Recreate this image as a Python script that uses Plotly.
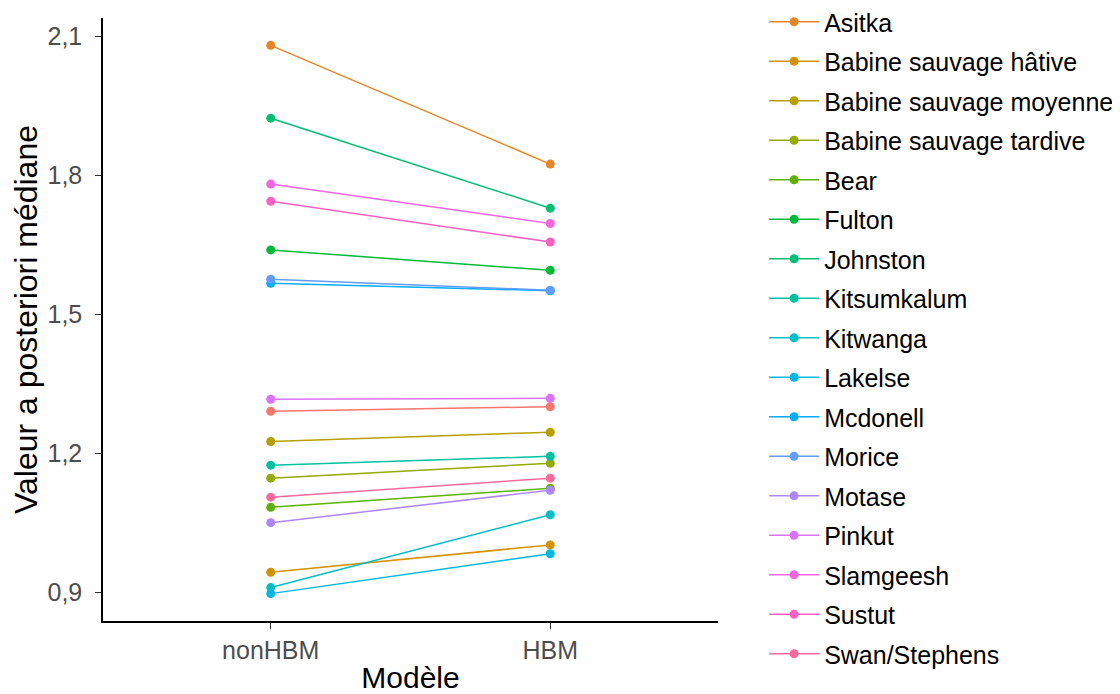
import math
import plotly.graph_objects as go

models = ["nonHBM", "HBM"]
stocks = ["Alastair", "Asitka", "Babine sauvage hâtive", "Babine sauvage moyenne",
          "Babine sauvage tardive", "Bear", "Fulton", "Johnston", "Kitsumkalum",
          "Kitwanga", "Lakelse", "Mcdonell", "Morice", "Motase", "Pinkut",
          "Slamgeesh", "Sustut", "Swan/Stephens"]
non_hbm = [1.291, 2.080, 0.944, 1.226, 1.147, 1.084, 1.639, 1.923, 1.175,
           0.911, 0.898, 1.567, 1.576, 1.051, 1.317, 1.781, 1.744, 1.106]
hbm = [1.301, 1.824, 1.003, 1.246, 1.179, 1.125, 1.595, 1.729, 1.194,
       1.068, 0.984, 1.551, 1.552, 1.121, 1.319, 1.696, 1.656, 1.147]
hidden_in_legend = ["Alastair"]
y_ticks = [0.9, 1.2, 1.5, 1.8, 2.1]
y_tick_text = ["0,9", "1,2", "1,5", "1,8", "2,1"]


def hcl_to_hex(h, c=100.0, l=65.0):
    xn, yn, zn = 95.047, 100.0, 108.883
    hr = math.radians(h)
    U, V = c * math.cos(hr), c * math.sin(hr)
    Y = yn * ((l + 16) / 116) ** 3 if l > 8 else yn * l / 903.3
    den = xn + 15 * yn + 3 * zn
    u0, v0 = 4 * xn / den, 9 * yn / den
    u = U / (13 * l) + u0
    v = V / (13 * l) + v0
    X = 9.0 * Y * u / (4 * v)
    Z = -X / 3 - 5 * Y + 3 * Y / v
    X, Y, Z = X / 100, Y / 100, Z / 100
    r = 3.240479 * X - 1.537150 * Y - 0.498535 * Z
    g = -0.969256 * X + 1.875992 * Y + 0.041556 * Z
    b = 0.055648 * X - 0.204043 * Y + 1.057311 * Z

    def gam(t):
        t = 12.92 * t if t <= 0.0031308 else 1.055 * t ** (1 / 2.4) - 0.055
        return int(round(min(max(t, 0), 1) * 255))
    return "#%02X%02X%02X" % (gam(r), gam(g), gam(b))


n = len(stocks)
hues = [15 + 360 * i / n for i in range(n)]
colors = [hcl_to_hex(h) for h in hues]

fig = go.Figure()
for i, s in enumerate(stocks):
    fig.add_trace(go.Scatter(
        x=models, y=[non_hbm[i], hbm[i]], mode="lines+markers", name=s,
        legendgroup=s, showlegend=s not in hidden_in_legend,
        line=dict(color=colors[i], width=1.5),
        marker=dict(color=colors[i], size=9),
    ))

fig.update_layout(
    width=1120, height=694,
    margin=dict(l=95, r=410, t=10, b=81, autoexpand=False),
    paper_bgcolor="white", plot_bgcolor="white",
    font=dict(family="Liberation Sans, Arial, sans-serif", color="black"),
    showlegend=True,
    legend=dict(x=1.075, xanchor="left", y=1.0315, yanchor="top",
                font=dict(size=25, color="black"), tracegroupgap=4,
                itemwidth=50, maxheight=694,
                bgcolor="rgba(0,0,0,0)"),
    xaxis=dict(type="category", range=[-0.6, 1.6], showgrid=False, zeroline=False,
               showline=True, linecolor="black", linewidth=1.5,
               ticks="outside", ticklen=6, tickcolor="#333333", tickwidth=1.2,
               tickfont=dict(size=25, color="#4D4D4D"),
               title=dict(text="Modèle", font=dict(size=30, color="black"), standoff=4)),
    yaxis=dict(range=[0.839, 2.139], showgrid=False, zeroline=False,
               showline=True, linecolor="black", linewidth=1.5,
               tickvals=y_ticks, ticktext=y_tick_text,
               ticks="outside", ticklen=6, tickcolor="#333333", tickwidth=1.2,
               ticklabelstandoff=8,
               tickfont=dict(size=25, color="#4D4D4D"),
               title=dict(text="Valeur a posteriori médiane", font=dict(size=32, color="black"), standoff=6)),
)

fig.write_html("out.html")
